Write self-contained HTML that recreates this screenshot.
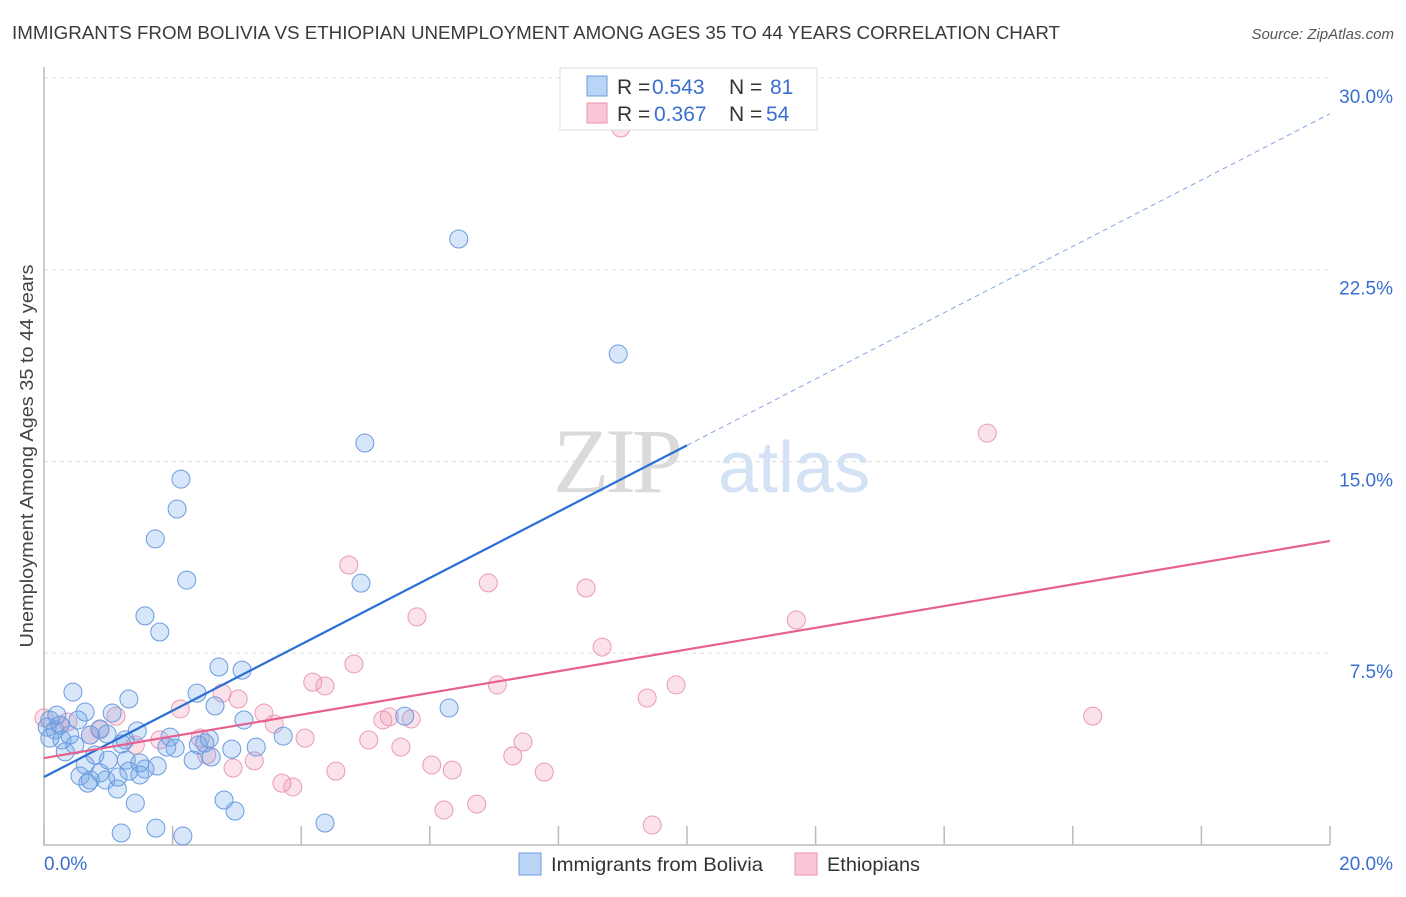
<!DOCTYPE html>
<html><head><meta charset="utf-8"><style>
body{margin:0;background:#fff;font-family:"Liberation Sans",sans-serif}
</style></head><body>
<svg id="chart" width="1406" height="892" viewBox="0 0 1406 892" xmlns="http://www.w3.org/2000/svg" font-family="Liberation Sans, sans-serif">
<text x="12" y="39" font-size="18" fill="#3a3a3a" textLength="1048" lengthAdjust="spacingAndGlyphs">IMMIGRANTS FROM BOLIVIA VS ETHIOPIAN UNEMPLOYMENT AMONG AGES 35 TO 44 YEARS CORRELATION CHART</text>
<text x="1394" y="39" font-size="15" fill="#555" font-style="italic" text-anchor="end">Source: ZipAtlas.com</text>
<g>
<text x="553" y="492" font-size="92" fill="#dadada" font-family="Liberation Serif, serif" letter-spacing="-4">ZIP</text>
<text x="718" y="492" font-size="72" fill="#d3e2f5">atlas</text>
</g>
<g id="grid"></g>
<g id="axes"></g>
<g id="marks"></g>
<g id="lines"></g>
<text transform="translate(33,456) rotate(-90)" font-size="18" fill="#444" text-anchor="middle" textLength="383" lengthAdjust="spacingAndGlyphs">Unemployment Among Ages 35 to 44 years</text>
<g>
<rect x="560" y="68" width="257" height="62" fill="#fff" stroke="#ddd"/>
<rect x="587" y="76" width="20" height="20" fill="#b9d4f5" stroke="#6a9de0"/>
<rect x="587" y="103" width="20" height="20" fill="#f9c6d6" stroke="#ea94b1"/>
<text x="617" y="94" font-size="21" fill="#333">R = <tspan x="652" fill="#3a6fd0">0.543</tspan><tspan x="729">N = </tspan><tspan x="770" fill="#3a6fd0">81</tspan></text>
<text x="617" y="121" font-size="21" fill="#333">R = <tspan x="654" fill="#3a6fd0">0.367</tspan><tspan x="729">N = </tspan><tspan x="766" fill="#3a6fd0">54</tspan></text>
</g>
<g>
<rect x="519" y="853" width="22" height="22" fill="#b9d4f5" stroke="#6a9de0"/>
<text x="551" y="871" font-size="19.5" fill="#333" textLength="212" lengthAdjust="spacingAndGlyphs">Immigrants from Bolivia</text>
<rect x="795" y="853" width="22" height="22" fill="#f9c6d6" stroke="#ea94b1"/>
<text x="827" y="871" font-size="19.5" fill="#333" textLength="93" lengthAdjust="spacingAndGlyphs">Ethiopians</text>
</g>
</svg>
<script>
const yTicks=[7.5,15,22.5,30];
const yTickLabels=["7.5%","15.0%","22.5%","30.0%"];
const xTicks=[0,2,4,6,8,10,12,14,16,18,20];
const xEndLabels=["0.0%","20.0%"];
const boliviaX=[6.45,8.93,4.99,2.13,2.07,1.73,2.22,4.93,1.57,1.80,2.72,3.08,0.45,1.32,2.38,2.66,5.61,6.30,1.06,0.64,0.53,0.09,3.11,1.45,3.72,3.30,0.05,0.17,0.28,0.72,0.87,0.98,1.21,1.96,2.04,2.40,2.57,2.50,2.92,1.91,0.48,0.33,0.79,0.64,1.00,1.28,1.49,1.76,1.57,1.32,0.56,0.72,0.87,1.15,1.49,0.96,0.68,1.14,1.42,2.80,2.97,1.20,1.74,2.16,4.37,2.32,2.60,1.26,0.25,0.40,0.09,0.20];
const boliviaY=[23.70,19.20,15.72,14.31,13.14,11.97,10.36,10.24,8.96,8.33,6.96,6.84,5.98,5.71,5.94,5.44,5.04,5.36,5.16,5.20,4.89,4.89,4.89,4.46,4.26,3.83,4.61,4.50,4.11,4.30,4.54,4.34,3.95,4.22,3.79,3.91,4.15,3.99,3.75,3.83,3.91,3.64,3.52,3.13,3.32,3.32,3.21,3.09,2.97,2.89,2.70,2.54,2.82,2.66,2.74,2.54,2.42,2.19,1.64,1.76,1.33,0.47,0.66,0.35,0.86,3.32,3.44,4.11,4.69,4.30,4.18,5.08];
const ethX=[8.97,14.67,4.74,6.91,8.43,5.80,11.70,8.68,4.82,4.18,4.37,7.05,9.83,9.38,2.77,3.02,2.12,16.31,3.42,5.27,5.37,5.71,3.58,1.12,0.25,0.37,0.0,4.06,5.05,7.45,5.55,1.42,1.80,2.43,7.29,3.27,6.03,6.35,4.54,7.78,2.94,3.70,3.87,6.22,6.73,9.46,2.53,0.72,0.87];
const ethY=[28.04,16.11,10.95,10.25,10.05,8.92,8.80,7.74,7.08,6.37,6.22,6.26,6.26,5.75,5.94,5.71,5.32,5.04,5.16,4.89,5.01,4.93,4.73,5.04,4.69,4.81,4.97,4.18,4.11,4.03,3.83,3.91,4.11,4.18,3.48,3.29,3.13,2.93,2.89,2.85,3.01,2.42,2.27,1.37,1.60,0.78,3.52,4.30,4.50];
const boliviaTrend=[2.66,1.297];
const ethTrend=[3.4,0.4245];
const solidEndX=10;

const NS="http://www.w3.org/2000/svg";
const X=v=>44+v*64.3, Y=v=>845-v*25.57;
function mk(parent,tag,attrs){const e=document.createElementNS(NS,tag);for(const k in attrs)e.setAttribute(k,attrs[k]);document.getElementById(parent).appendChild(e);return e;}
yTicks.forEach((t,i)=>{
 const g=mk('grid','line',{x1:44,x2:1330,y1:Y(t),y2:Y(t),stroke:'#ddd','stroke-dasharray':'4,4'});
 
 
 const l=mk('axes','text',{x:1393,y:Y(t)+25,'font-size':19,fill:'#3a6fd0','text-anchor':'end'});
 l.textContent=yTickLabels[i];
 
 
});
const ax=mk('axes','path',{d:`M44 67 V845 H1330`,fill:'none',stroke:'#bbb','stroke-width':1.5});


xTicks.forEach(t=>{
 const tk=mk('axes','line',{x1:X(t),x2:X(t),y1:826,y2:845,stroke:'#bbb','stroke-width':1.5});
 
 
});
const xl0=mk('axes','text',{x:44,y:870,'font-size':19,fill:'#3a6fd0'});xl0.textContent=xEndLabels[0];


const xl1=mk('axes','text',{x:1393,y:870,'font-size':19,fill:'#3a6fd0','text-anchor':'end'});xl1.textContent=xEndLabels[1];


ethX.forEach((x,i)=>{
 const c=mk('marks','circle',{cx:X(x),cy:Y(ethY[i]),r:9,fill:'rgba(240,140,170,0.25)',stroke:'#eb9ab5','stroke-width':1});
 
 
});
boliviaX.forEach((x,i)=>{
 const c=mk('marks','circle',{cx:X(x),cy:Y(boliviaY[i]),r:9,fill:'rgba(110,165,230,0.28)',stroke:'#6a9be0','stroke-width':1});
 
 
});
const b1=mk('lines','line',{x1:X(0),y1:Y(boliviaTrend[0]),x2:X(solidEndX),y2:Y(boliviaTrend[0]+boliviaTrend[1]*solidEndX),stroke:'#2a6fd6','stroke-width':2.2});


const b2=mk('lines','line',{x1:X(solidEndX),y1:Y(boliviaTrend[0]+boliviaTrend[1]*solidEndX),x2:X(20),y2:Y(boliviaTrend[0]+boliviaTrend[1]*20),stroke:'#7fa6e0','stroke-width':1,'stroke-dasharray':'5,4'});


const p1=mk('lines','line',{x1:X(0),y1:Y(ethTrend[0]),x2:X(20),y2:Y(ethTrend[0]+ethTrend[1]*20),stroke:'#e8608e','stroke-width':2.2});


</script>
</body></html>
